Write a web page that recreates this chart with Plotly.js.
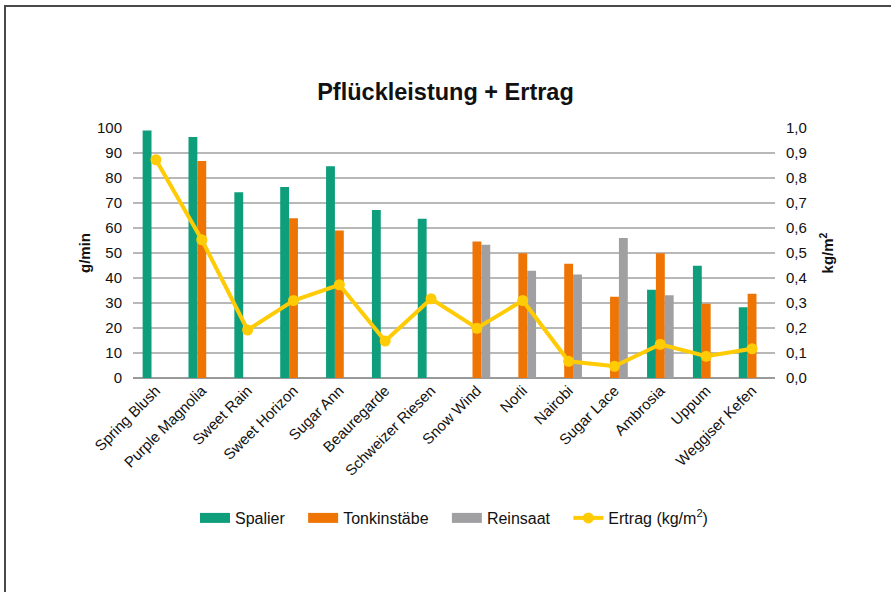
<!DOCTYPE html>
<html>
<head>
<meta charset="utf-8">
<script src="https://cdn.plot.ly/plotly-3.0.1.min.js"></script>
<style>
  html, body { margin: 0; padding: 0; background: #fff; }
  #wrap { position: relative; width: 891px; height: 592px; overflow: hidden; }
  #chart { position: absolute; left: 0; top: 0; width: 891px; height: 592px; }
  #frame { position: absolute; left: 4px; top: 5px; right: -10px; bottom: -10px;
           border-left: 2px solid #4a4a4a; border-top: 2px solid #4a4a4a; pointer-events: none; }
</style>
</head>
<body>
<div id="wrap">
  <div id="chart"></div>
  <div id="frame"></div>
</div>
<script>
const categories = ["Spring Blush", "Purple Magnolia", "Sweet Rain", "Sweet Horizon", "Sugar Ann",
  "Beauregarde", "Schweizer Riesen", "Snow Wind", "Norli", "Nairobi", "Sugar Lace",
  "Ambrosia", "Uppum", "Weggiser Kefen"];
const spalier      = [99, 96.4, 74.3, 76.4, 84.7, 67.2, 63.7, null, null, null, null, 35.3, 44.9, 28.3];
const tonkinstaebe = [null, 86.8, null, 63.9, 59, null, null, 54.6, 49.9, 45.7, 32.5, 49.9, 29.7, 33.7];
const reinsaat     = [null, null, null, null, null, null, null, 53.3, 42.9, 41.4, 56, 33.1, null, null];
const ertrag       = [0.873, 0.553, 0.192, 0.31, 0.373, 0.148, 0.317, 0.199, 0.31, 0.067, 0.047, 0.135, 0.087, 0.117];

const seriesNames = ["Spalier", "Tonkinstäbe", "Reinsaat", "Ertrag (kg/m<sup>2</sup>)"];
const leftTicks = [0, 10, 20, 30, 40, 50, 60, 70, 80, 90, 100];
const rightTicks = [0, 0.1, 0.2, 0.3, 0.4, 0.5, 0.6, 0.7, 0.8, 0.9, 1.0];

const FONT = "Liberation Sans, Arial, Helvetica, sans-serif";
const COLORS = ["#0f9e7b", "#ee7404", "#a0a0a2", "#ffcb05"];
const barData = [spalier, tonkinstaebe, reinsaat];
const PAD = "\u00a0\u00a0\u00a0";

const traces = [];
barData.forEach((vals, i) => {
  traces.push({ type: "bar", name: seriesNames[i], x: categories, y: vals, showlegend: false,
    legendgroup: "g" + i, marker: { color: COLORS[i], line: { width: 0 } } });
});
// legend swatches (wide rectangles) for the bar series
barData.forEach((vals, i) => {
  traces.push({ type: "scatter", mode: "lines", name: seriesNames[i] + PAD, x: [categories[0]], y: [null],
    legendgroup: "g" + i, legendrank: i + 1, hoverinfo: "skip",
    line: { color: COLORS[i], width: 11 } });
});
traces.push({ type: "scatter", mode: "lines+markers", name: seriesNames[3], x: categories, y: ertrag,
  yaxis: "y2", legendrank: 4, line: { color: COLORS[3], width: 4 },
  marker: { color: COLORS[3], size: 11 } });

const layout = {
  width: 891, height: 592,
  paper_bgcolor: "rgba(0,0,0,0)", plot_bgcolor: "rgba(0,0,0,0)",
  margin: { l: 133, r: 116, t: 128, b: 214 },
  separators: ",.",
  font: { family: FONT, size: 15, color: "#111" },
  title: { text: "<b>Pflückleistung + Ertrag</b>", x: 0.5, xref: "container", xanchor: "center",
           y: 1 - 92 / 592, yref: "container", yanchor: "middle",
           font: { family: FONT, size: 23.5, color: "#111" } },
  barmode: "group", bargap: 0.42, bargroupgap: 0,
  showlegend: true,
  legend: { orientation: "h", x: 0.5, xanchor: "center", y: -0.56, yanchor: "middle",
            font: { family: FONT, size: 16, color: "#111" }, traceorder: "normal", itemwidth: 30 },
  xaxis: { type: "category", range: [-0.5, categories.length - 0.5], autorange: false,
           tickangle: -45, showgrid: false, ticks: "", showline: false, automargin: false,
           zeroline: false, tickfont: { family: FONT, size: 15, color: "#111" } },
  yaxis: { range: [0, 100], tickvals: leftTicks, ticktext: leftTicks.map(String), automargin: false,
           showgrid: true, gridcolor: "#b8b8b8", gridwidth: 1.5, zeroline: true, zerolinecolor: "#9a9a9a",
           zerolinewidth: 1.5, ticks: "", ticklabelstandoff: 10, showline: false,
           tickfont: { family: FONT, size: 15, color: "#111" },
           title: { text: "<b>g/min</b>", standoff: 2, font: { family: FONT, size: 15, color: "#111" } } },
  yaxis2: { range: [0, 1], overlaying: "y", side: "right", tickvals: rightTicks, automargin: false,
            tickformat: ".1f", showgrid: false, zeroline: false, ticks: "", ticklabelstandoff: 10,
            tickfont: { family: FONT, size: 15, color: "#111" },
            title: { text: "<b>kg/m<sup>2</sup></b>", standoff: 16, font: { family: FONT, size: 15, color: "#111" } } }
};

Plotly.newPlot("chart", traces, layout, { staticPlot: true, displayModeBar: false });
</script>
</body>
</html>
